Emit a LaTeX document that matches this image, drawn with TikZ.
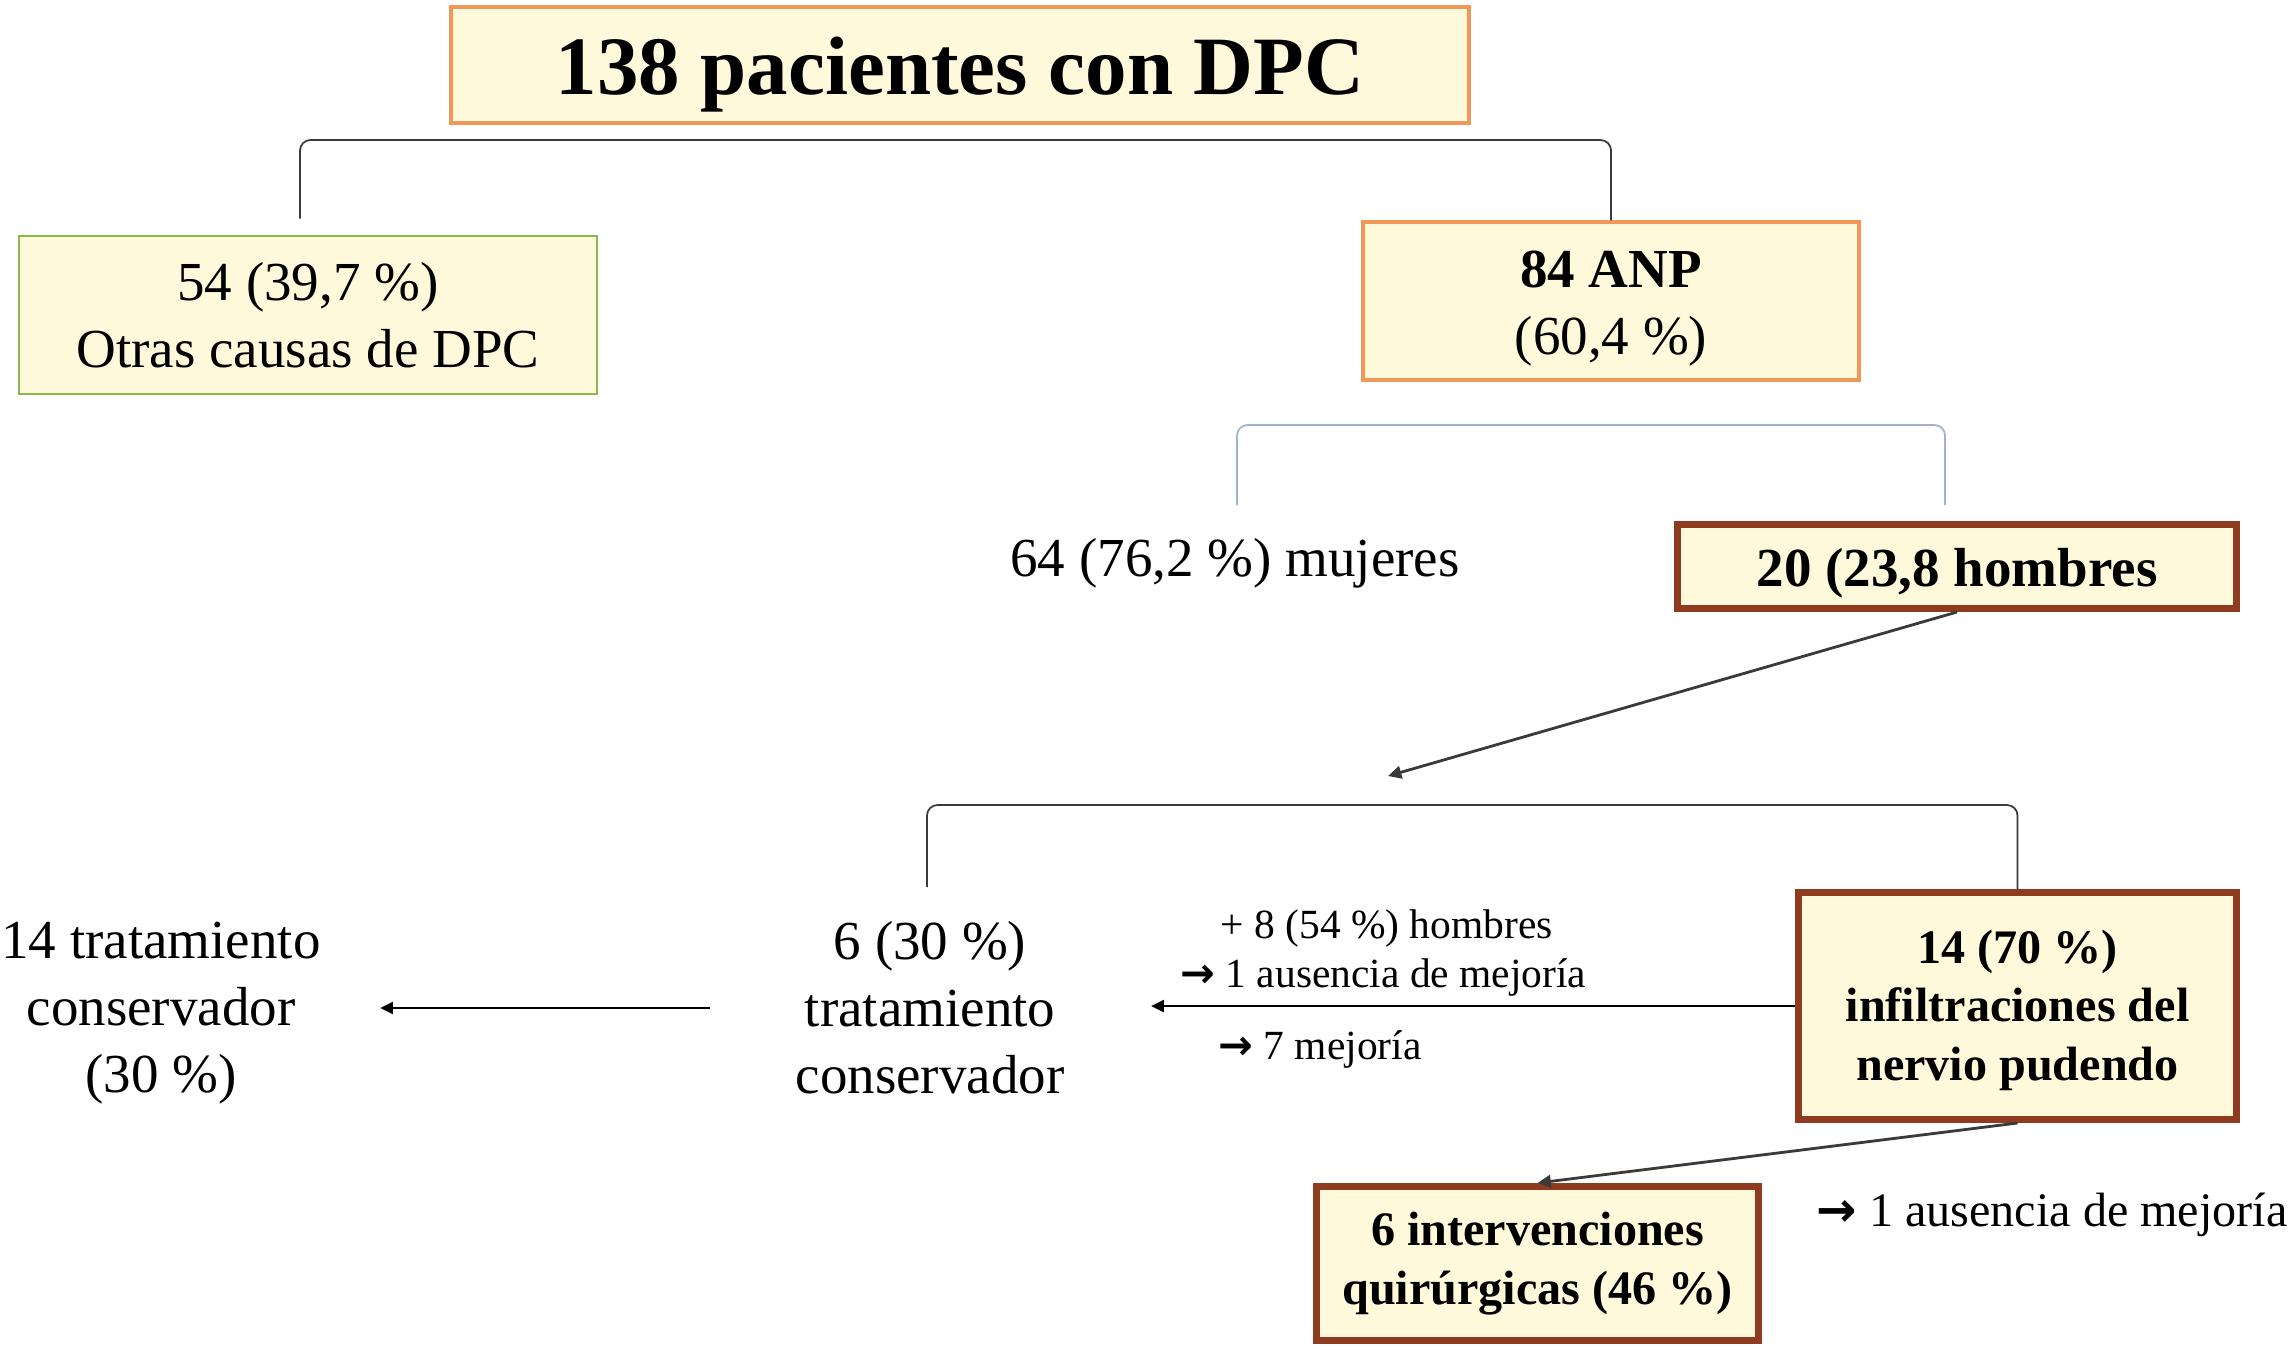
\documentclass[tikz,border=0pt]{standalone}
\usepackage{fontspec}
\setmainfont{Liberation Serif}
\newfontfamily\arrowf{DejaVu Sans}
\usetikzlibrary{arrows.meta}
\definecolor{boxfill}{HTML}{FEF9DA}
\definecolor{orangeb}{HTML}{F0985A}
\definecolor{greenb}{HTML}{8CB84A}
\definecolor{brownb}{HTML}{8E3B1F}
\definecolor{bluegray}{HTML}{9FB3CC}
\definecolor{darkline}{HTML}{3A3A3A}
\newcommand\mainsize{\fontsize{15.65pt}{19.05pt}\selectfont}
\newcommand\smallsize{\fontsize{11.8pt}{14pt}\selectfont}
\newcommand\botsize{\fontsize{13.7pt}{16.6pt}\selectfont}
\newcommand\titlesize{\fontsize{23.6pt}{28pt}\selectfont}
\newcommand\myarrow{{\arrowf\bfseries →}}
\tikzset{
  box/.style={draw, fill=boxfill, align=center, inner sep=0pt, text=black},
  orangebox/.style={box, draw=orangeb, line width=1pt},
  greenbox/.style={box, draw=greenb, line width=0.8pt},
  brownbox/.style={box, draw=brownb, line width=2pt},
  plain/.style={align=center, inner sep=0pt},
  br/.style={draw=darkline, line width=0.5pt, rounded corners=3pt},
  brblue/.style={draw=bluegray, line width=0.5pt, rounded corners=3pt},
  arr/.style={draw=black, line width=0.6pt, -{Triangle[length=3.6pt,width=3.4pt]}},
  darr/.style={draw=darkline, line width=0.8pt, -{Triangle[length=3.8pt,width=3.6pt]}}
}
\begin{document}
\begin{tikzpicture}[x=0.1mm,y=-0.1mm]
\useasboundingbox (0,0) rectangle (2296,1352);
% boxes
\node[orangebox, minimum width=101.8mm, minimum height=11.6mm, font=\titlesize\bfseries, text height=22pt] (title) at (960,65) {138 pacientes con DPC};
\node[greenbox, minimum width=57.8mm, minimum height=15.8mm, font=\mainsize] (otras) at (308,315) {54 (39,7 \%)\\Otras causas de DPC};
\node[orangebox, minimum width=49.6mm, minimum height=15.8mm, font=\mainsize] (anp) at (1611,301) {\rule{0pt}{14.6pt}\textbf{84 ANP}\\(60,4 \%)};
\node[plain, font=\mainsize] (muj) at (1235,563) {64 (76,2 \%) mujeres};
\node[brownbox, minimum width=55.9mm, minimum height=8.4mm, font=\mainsize\bfseries, text height=14.8pt] (hombres) at (1957,566.5) {20 (23,8 hombres};
\node[plain, font=\mainsize] (trat) at (930,1008) {6 (30 \%)\\tratamiento\\conservador};
\node[plain, font=\mainsize] (cons14) at (161,1013) {14 tratamiento\\conservador\\(30 \%)};
\node[brownbox, minimum width=43.8mm, minimum height=22.7mm, font=\botsize\bfseries] (infil) at (2017.5,1006) {\rule{0pt}{12pt}14 (70 \%)\\infiltraciones del\\nervio pudendo};
\node[brownbox, minimum width=44.2mm, minimum height=15.4mm, font=\botsize\bfseries] (interv) at (1537.5,1263.5) {6 intervenciones\\quirúrgicas (46 \%)};
% labels
\node[plain, anchor=west, font=\smallsize] (l1) at (1220,929) {+ 8 (54 \%) hombres};
\node[plain, anchor=west, font=\smallsize] (l2) at (1180,977) {\myarrow\ 1 ausencia de mejoría};
\node[plain, anchor=west, font=\smallsize] (l3) at (1218,1049) {\myarrow\ 7 mejoría};
\node[plain, anchor=west, font=\botsize] (l4) at (1816,1215) {\myarrow\ 1 ausencia de mejoría};
% bracket coordinates
\coordinate (b1) at (960,140);
\coordinate (b2) at (1591,425);
\coordinate (b2l) at (1237,505);
\coordinate (b2r) at (1945,505);
\coordinate (b3) at (1470,805);
\coordinate (b3l) at (927,887);
\coordinate (tgt3) at (1388,776);
% brackets
\draw[br] ([xshift=-0.8mm,yshift=1.6mm]otras.north) |- (b1) -| (anp.north);
\draw[brblue] (b2l) |- (b2) -| (b2r);
\draw[br] (b3l) |- (b3) -| (infil.north);
% arrows
\draw[darr] (hombres.south) -- (tgt3);
\draw[arr, shorten >=8.6mm] (infil.west) -- (infil.west -| trat.east);
\draw[arr, shorten <=8.5mm, shorten >=5.9mm] (trat.west) -- (trat.west -| cons14.east);
\draw[darr] (infil.south) -- (interv.north);
\end{tikzpicture}
\end{document}
